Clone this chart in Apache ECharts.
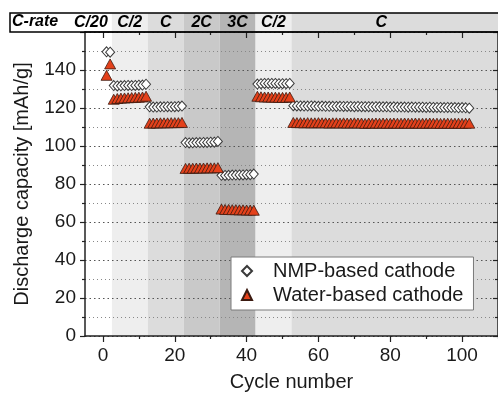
<!DOCTYPE html>
<html>
<head>
<meta charset="utf-8">
<script src="https://cdn.jsdelivr.net/npm/echarts@6/dist/echarts.min.js"></script>
<style>
  html, body { margin: 0; padding: 0; background: #fff; }
  #chart { width: 498px; height: 397px; }
</style>
</head>
<body>
<div id="chart"></div>
<script>
// Rate-capability test: discharge capacity per cycle for two cathode types.
const rateLabels = ['C/20', 'C/2', 'C', '2C', '3C', 'C/2', 'C'];
const cyclesPerRate = [2, 10, 10, 10, 10, 10, 50];

const nmpCapacity = [
  149.6, 149.4,
  131.8, 131.6, 131.7, 131.8, 131.9, 131.8, 131.9, 132.0, 132.1, 132.5,
  120.6, 120.5, 120.5, 120.6, 120.6, 120.7, 120.6, 120.7, 120.8, 121.0,
  101.8, 101.6, 101.7, 101.8, 101.8, 101.9, 101.9, 102.0, 102.0, 102.4,
  84.6, 84.5, 84.6, 84.7, 84.7, 84.8, 84.8, 84.9, 84.9, 85.2,
  132.6, 132.8, 132.9, 132.9, 132.9, 132.9, 132.8, 132.8, 132.8, 132.9,
  121.2, 121.1, 121.1, 121.0, 121.0, 121.1, 121.0, 120.9, 121.0, 120.9,
  120.9, 120.9, 120.8, 120.9, 120.8, 120.8, 120.8, 120.7, 120.8, 120.7,
  120.7, 120.7, 120.6, 120.7, 120.6, 120.6, 120.6, 120.5, 120.6, 120.5,
  120.5, 120.5, 120.4, 120.5, 120.4, 120.4, 120.4, 120.3, 120.4, 120.3,
  120.3, 120.3, 120.2, 120.3, 120.2, 120.2, 120.1, 120.2, 120.1, 119.9
];

const waterCapacity = [
  137.2, 143.2,
  124.6, 125.0, 125.2, 125.3, 125.4, 125.5, 125.6, 125.7, 125.8, 126.2,
  112.0, 112.1, 112.1, 112.2, 112.2, 112.2, 112.3, 112.3, 112.3, 112.4,
  88.2, 88.3, 88.3, 88.4, 88.4, 88.4, 88.5, 88.5, 88.5, 88.6,
  66.8, 66.6, 66.6, 66.5, 66.5, 66.4, 66.4, 66.3, 66.3, 66.2,
  126.2, 125.9, 125.8, 125.8, 125.7, 125.7, 125.6, 125.6, 125.6, 125.8,
  112.4, 112.3, 112.3, 112.2, 112.3, 112.2, 112.2, 112.3, 112.2, 112.2,
  112.1, 112.2, 112.2, 112.1, 112.2, 112.1, 112.1, 112.2, 112.1, 112.1,
  111.9, 112.1, 112.0, 112.1, 112.0, 112.1, 112.0, 112.0, 112.1, 112.0,
  112.0, 112.1, 112.0, 112.0, 112.1, 112.0, 112.0, 112.0, 112.1, 112.0,
  112.0, 111.9, 112.0, 112.0, 111.9, 112.0, 112.0, 111.9, 112.0, 112.0
];

const xTicks = [0, 20, 40, 60, 80, 100];
const xMinorTicks = [10, 30, 50, 70, 90, 110];
const seriesNames = ['NMP-based cathode', 'Water-based cathode'];

// Axis ranges
const X_MIN = -5, X_MAX = 110, Y_MIN = 0, Y_MAX = 160;

// Layout
const PLOT = { left: 85, top: 32, width: 414, height: 307.5 };
const HEADER = { left: 10, top: 13, height: 19 };
const pxPerCycle = PLOT.width / (X_MAX - X_MIN);
const HEADER_MIN = X_MIN - (PLOT.left - HEADER.left) / pxPerCycle;

const shadeColors = ['#ffffff', '#eeeeee', '#dcdcdc', '#c9c9c9', '#b5b5b5', '#eeeeee', '#dcdcdc'];
const FONT = '"Liberation Sans", Arial, Helvetica, sans-serif';

// Stage spans in cycle units, built from the cycle counts
const stages = [];
let first = 1;
cyclesPerRate.forEach((n, i) => {
  const last = first + n - 1;
  stages.push({
    label: rateLabels[i],
    from: i === 0 ? null : first - 0.5,
    to: i === cyclesPerRate.length - 1 ? null : last + 0.5,
    firstCycle: first,
    lastCycle: last,
    color: shadeColors[i]
  });
  first = last + 1;
});

const toPoints = arr => arr.map((v, i) => [i + 1, v]);

const chart = echarts.init(document.getElementById('chart'), null, { renderer: 'canvas' });

const plotBands = stages.map((s, i) => [s.from === null ? X_MIN : s.from, s.to === null ? X_MAX : s.to, i]);
const headerBands = stages.map((s, i) => [s.from === null ? HEADER_MIN : s.from, s.to === null ? X_MAX : s.to, i]);

const hiddenAxis = { show: false };

const option = {
  animation: false,
  backgroundColor: '#ffffff',
  textStyle: { fontFamily: FONT },
  grid: [
    { left: PLOT.left, top: PLOT.top, width: PLOT.width, height: PLOT.height, containLabel: false },
    { left: HEADER.left, top: HEADER.top, width: PLOT.left + PLOT.width - HEADER.left, height: HEADER.height }
  ],
  xAxis: [
    {
      gridIndex: 0, type: 'value', min: X_MIN, max: X_MAX, position: 'bottom', z: 1,
      name: 'Cycle number', nameLocation: 'middle', nameGap: 36,
      nameTextStyle: { fontSize: 20, color: '#1a1a1a', fontFamily: FONT },
      axisLine: { show: true, onZero: false, lineStyle: { color: '#222', width: 1.5 } },
      axisTick: { show: true, inside: false, length: 6, customValues: xTicks, lineStyle: { color: '#222', width: 1.2 } },
      axisLabel: { show: true, customValues: xTicks, fontSize: 19, color: '#1a1a1a', margin: 10, fontFamily: FONT },
      splitLine: { show: false }
    },
    {
      gridIndex: 0, type: 'value', min: X_MIN, max: X_MAX, position: 'bottom', z: 1,
      axisLine: { show: false, onZero: false },
      axisTick: { show: true, inside: false, length: 3, customValues: xMinorTicks, lineStyle: { color: '#222', width: 1.2 } },
      axisLabel: { show: false },
      splitLine: { show: false }
    },
    {
      gridIndex: 0, type: 'value', min: X_MIN, max: X_MAX, position: 'top', z: 1,
      axisLine: { show: true, onZero: false, lineStyle: { color: '#222', width: 1.5 } },
      axisTick: { show: true, inside: true, length: 6, customValues: xTicks, lineStyle: { color: '#222', width: 1.2 } },
      axisLabel: { show: false },
      splitLine: { show: false }
    },
    {
      gridIndex: 0, type: 'value', min: X_MIN, max: X_MAX, position: 'top', z: 1,
      axisLine: { show: false, onZero: false },
      axisTick: { show: true, inside: true, length: 3, customValues: xMinorTicks, lineStyle: { color: '#222', width: 1.2 } },
      axisLabel: { show: false },
      splitLine: { show: false }
    },
    Object.assign({ gridIndex: 1, type: 'value', min: HEADER_MIN, max: X_MAX }, hiddenAxis)
  ],
  yAxis: [
    {
      gridIndex: 0, type: 'value', min: Y_MIN, max: Y_MAX, interval: 20, position: 'left', z: 1,
      name: 'Discharge capacity [mAh/g]', nameLocation: 'middle', nameGap: 53,
      nameTextStyle: { fontSize: 20, color: '#1a1a1a', fontFamily: FONT },
      axisLine: { show: true, onZero: false, lineStyle: { color: '#222', width: 1.5 } },
      axisTick: { show: true, inside: false, length: 5, lineStyle: { color: '#222', width: 1.2 } },
      minorTick: { show: true, splitNumber: 2, length: 3, lineStyle: { color: '#222', width: 1.2 } },
      axisLabel: { fontSize: 19, color: '#1a1a1a', margin: 9, fontFamily: FONT, showMaxLabel: false },
      splitLine: { show: true, lineStyle: { color: '#555', width: 1, type: [1.5, 3] } },
      minorSplitLine: { show: true, lineStyle: { color: '#888', width: 1, type: [1, 3] } }
    },
    {
      gridIndex: 0, type: 'value', min: Y_MIN, max: Y_MAX, interval: 20, position: 'right', z: 1,
      axisLine: { show: true, onZero: false, lineStyle: { color: '#222', width: 1.5 } },
      axisTick: { show: true, inside: true, length: 5, lineStyle: { color: '#222', width: 1.2 } },
      minorTick: { show: true, splitNumber: 2, length: 3, lineStyle: { color: '#222', width: 1.2 } },
      axisLabel: { show: false },
      splitLine: { show: false }
    },
    Object.assign({ gridIndex: 1, type: 'value', min: 0, max: 1 }, hiddenAxis)
  ],
  legend: {
    orient: 'vertical',
    left: 231, top: 257,
    backgroundColor: '#ffffff',
    borderColor: '#7a7a7a', borderWidth: 1,
    padding: [4, 10, 5, 10],
    itemGap: 4,
    itemWidth: 10, itemHeight: 10,
    textStyle: { fontSize: 20, color: '#1a1a1a', fontFamily: FONT, padding: [0, 0, 0, 16] },
    data: seriesNames
  },
  series: [
    {
      // rate-stage shading behind the data
      type: 'custom', xAxisIndex: 0, yAxisIndex: 0, z: 0, silent: true, clip: true,
      data: plotBands,
      renderItem: (params, api) => {
        const a = api.coord([api.value(0), Y_MAX]);
        const b = api.coord([api.value(1), Y_MIN]);
        return {
          type: 'rect',
          shape: { x: a[0], y: a[1], width: b[0] - a[0], height: b[1] - a[1] },
          style: { fill: stages[api.value(2)].color }
        };
      }
    },
    {
      // rate header band with stage labels
      type: 'custom', xAxisIndex: 4, yAxisIndex: 2, z: 0, silent: true, clip: false,
      data: headerBands,
      renderItem: (params, api) => {
        const idx = api.value(2);
        const st = stages[idx];
        const a = api.coord([api.value(0), 1]);
        const b = api.coord([api.value(1), 0]);
        let tx, align;
        if (idx === 0) {
          tx = b[0] - 4; align = 'right';
        } else {
          tx = api.coord([(st.firstCycle + st.lastCycle) / 2, 0])[0]; align = 'center';
        }
        return {
          type: 'group',
          children: [
            { type: 'rect', shape: { x: a[0], y: a[1], width: b[0] - a[0], height: b[1] - a[1] }, style: { fill: st.color } },
            { type: 'text', x: tx, y: (a[1] + b[1]) / 2 + 0.5,
              style: { text: st.label, fill: '#000', font: 'italic bold 16px ' + FONT, align: align, verticalAlign: 'middle' } }
          ]
        };
      }
    },
    {
      name: seriesNames[0], type: 'scatter', xAxisIndex: 0, yAxisIndex: 0, z: 3,
      data: toPoints(nmpCapacity),
      symbol: 'diamond', symbolSize: [9, 10],
      itemStyle: { color: '#ffffff', borderColor: '#3a3a3a', borderWidth: 1, opacity: 1 }
    },
    {
      name: seriesNames[1], type: 'scatter', xAxisIndex: 0, yAxisIndex: 0, z: 4,
      data: toPoints(waterCapacity),
      symbol: 'triangle', symbolSize: [11, 10],
      itemStyle: { color: '#e4411b', borderColor: '#3b1a10', borderWidth: 0.8, opacity: 1 }
    }
  ],
  graphic: [
    {
      type: 'rect', z: 100, silent: true,
      shape: { x: HEADER.left, y: HEADER.top, width: PLOT.left + PLOT.width - HEADER.left, height: HEADER.height },
      style: { fill: 'none', stroke: '#000', lineWidth: 1.5 }
    },
    {
      type: 'text', z: 101, silent: true,
      left: HEADER.left + 2, top: HEADER.top + 1,
      style: { text: 'C-rate', fill: '#000', font: 'italic bold 16px ' + FONT }
    }
  ]
};

chart.setOption(option);
</script>
</body>
</html>
